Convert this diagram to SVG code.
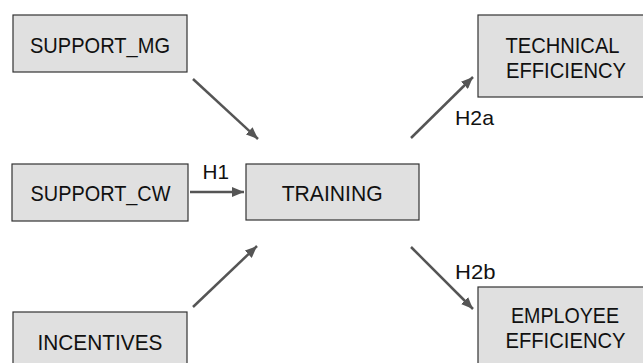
<svg xmlns="http://www.w3.org/2000/svg" width="643" height="363" viewBox="0 0 643 363">
<defs>
<marker id="ah" viewBox="0 0 12 10" refX="12" refY="5" markerWidth="12" markerHeight="10" markerUnits="userSpaceOnUse" orient="auto">
<path d="M0,0 L12,5 L0,10 z" fill="#555"/>
</marker>
<style>
.box{fill:#e0e0e0;stroke:#333;stroke-width:1.2}
.t{font-family:"Liberation Sans",Arial,sans-serif;font-size:22px;fill:#111;text-anchor:middle}
.l{font-family:"Liberation Sans",Arial,sans-serif;font-size:21px;fill:#111}
.c{stroke:#555;stroke-width:2.5;fill:none;marker-end:url(#ah)}
</style>
</defs>
<rect width="643" height="363" fill="#fff"/>
<g id="support_mg"><rect class="box" x="13" y="15" width="174" height="57"/><text class="t" x="100" y="52.5" textLength="140" lengthAdjust="spacingAndGlyphs">SUPPORT_MG</text></g>
<g id="support_cw"><rect class="box" x="12" y="164" width="176" height="57"/><text class="t" x="100.5" y="201" textLength="140" lengthAdjust="spacingAndGlyphs">SUPPORT_CW</text></g>
<g id="incentives"><rect class="box" x="13" y="312" width="174" height="57"/><text class="t" x="100" y="349.5" textLength="125" lengthAdjust="spacingAndGlyphs">INCENTIVES</text></g>
<g id="training"><rect class="box" x="246" y="164" width="173" height="56"/><text class="t" x="332.2" y="201" textLength="101" lengthAdjust="spacingAndGlyphs">TRAINING</text></g>
<g id="technical"><rect class="box" x="478" y="15" width="172" height="82"/><text class="t" x="562.5" y="53.3" textLength="114" lengthAdjust="spacingAndGlyphs">TECHNICAL</text><text class="t" x="566" y="78.3" textLength="120" lengthAdjust="spacingAndGlyphs">EFFICIENCY</text></g>
<g id="employee"><rect class="box" x="478" y="287" width="172" height="82"/><text class="t" x="565" y="323.3" textLength="108" lengthAdjust="spacingAndGlyphs">EMPLOYEE</text><text class="t" x="565.5" y="348.3" textLength="120" lengthAdjust="spacingAndGlyphs">EFFICIENCY</text></g>
<g id="connectors">
<line class="c" x1="193" y1="79" x2="258" y2="139"/>
<line class="c" x1="190" y1="192" x2="244" y2="192"/>
<line class="c" x1="193" y1="307" x2="257" y2="246"/>
<line class="c" x1="411" y1="138" x2="473" y2="77"/>
<line class="c" x1="411" y1="247" x2="473" y2="309"/>
<text class="l" x="202.5" y="179" textLength="26.5" lengthAdjust="spacingAndGlyphs">H1</text>
<text class="l" x="455" y="125" textLength="39" lengthAdjust="spacingAndGlyphs">H2a</text>
<text class="l" x="455" y="279" textLength="40.5" lengthAdjust="spacingAndGlyphs">H2b</text>
</g>
</svg>
